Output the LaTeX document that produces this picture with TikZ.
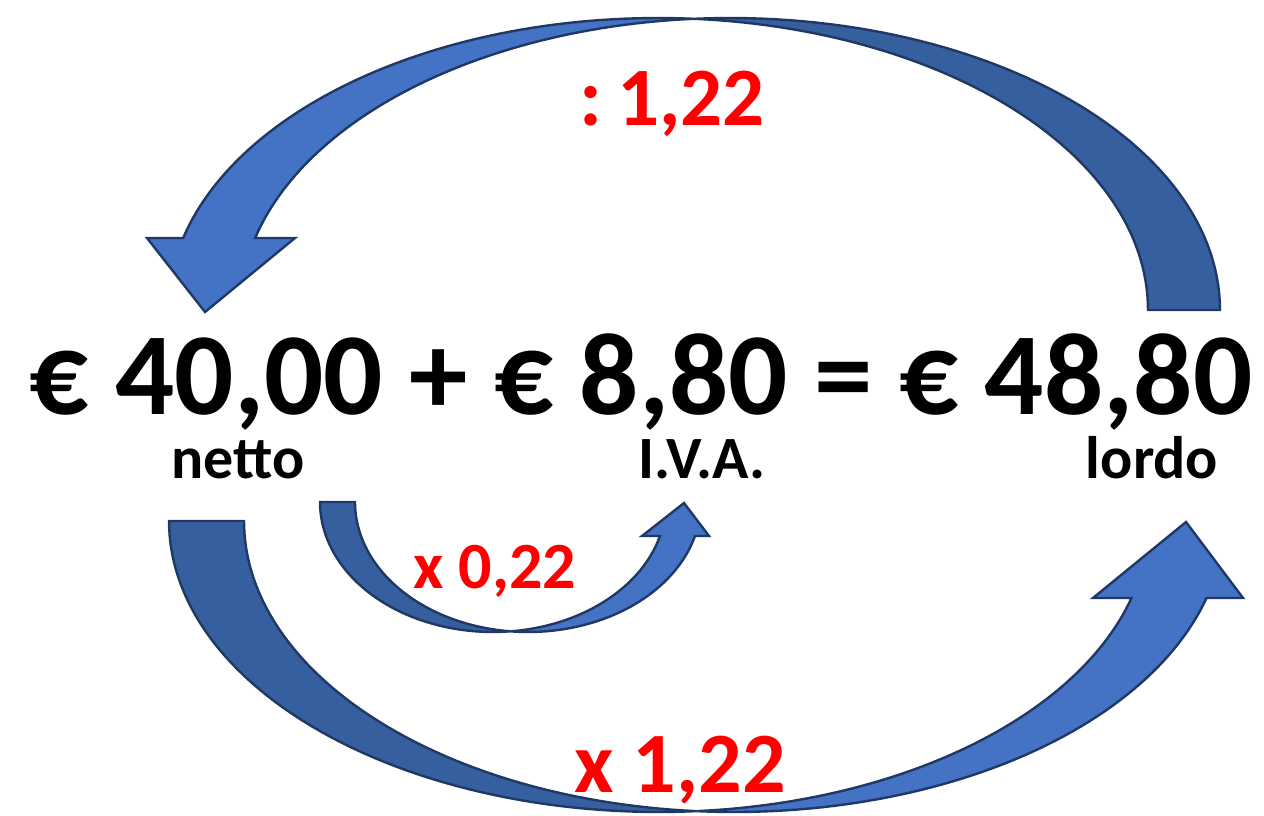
\documentclass[tikz,border=0pt]{standalone}
\usepackage{fontspec}
\setmainfont{Carlito}
\usepackage{tikz}
\definecolor{front}{HTML}{4472C4}
\definecolor{back}{HTML}{365F9F}
\definecolor{rim}{HTML}{1F3864}
\definecolor{red}{HTML}{FF0000}

\begin{document}
\begin{tikzpicture}[x=1pt,y=-1pt,
  frontface/.style={fill=front,draw=rim,line width=2.4pt,line join=miter},
  backface/.style={fill=back,draw=rim,line width=2.4pt,line join=miter},
  amount/.style={font=\fontsize{117}{117}\selectfont\bfseries,anchor=base,inner sep=0pt},
  tag/.style={font=\fontsize{60}{60}\selectfont\bfseries,anchor=base,inner sep=0pt},
  factor/.style={font=\fontsize{#1}{#1}\selectfont\bfseries,text=red,anchor=base,inner sep=0pt}]
\useasboundingbox (0,0) rectangle (1264,816);

% top arrow, lordo back to netto
\draw[backface] plot[domain=-94.2:0,samples=60] ({730+490*cos(\x)},{310+292*sin(\x)})
  -- plot[domain=0:-85.8,samples=60] ({658+490*cos(\x)},{310+292*sin(\x)}) -- cycle;
\draw[frontface] plot[domain=-85.8:-165.73,samples=60] ({658+490*cos(\x)},{310+292*sin(\x)})
  -- (147,238) -- (205,312) -- (295,238)
  -- plot[domain=-165.73:-94.2,samples=60] ({730+490*cos(\x)},{310+292*sin(\x)}) -- cycle;

% small arrow, netto to I.V.A.
\draw[backface] plot[domain=180:84.19,samples=60] ({493+173*cos(\x)},{502+130*sin(\x)})
  -- plot[domain=95.81:180,samples=60] ({528+173*cos(\x)},{502+130*sin(\x)}) -- cycle;
\draw[frontface] plot[domain=95.81:15.16,samples=60] ({528+173*cos(\x)},{502+130*sin(\x)})
  -- (709,536) -- (684,503) -- (642,536)
  -- plot[domain=15.16:84.19,samples=60] ({493+173*cos(\x)},{502+130*sin(\x)}) -- cycle;

% big arrow, netto to lordo
\draw[backface] plot[domain=180:85.6,samples=60] ({659+490*cos(\x)},{521+291*sin(\x)})
  -- plot[domain=94.4:180,samples=60] ({734+490*cos(\x)},{521+291*sin(\x)}) -- cycle;
\draw[frontface] plot[domain=94.4:15.34,samples=60] ({734+490*cos(\x)},{521+291*sin(\x)})
  -- (1243,598) -- (1186,522) -- (1093,598)
  -- plot[domain=15.34:85.6,samples=60] ({659+490*cos(\x)},{521+291*sin(\x)}) -- cycle;

\node[amount] (sum) at (641,414) {€ 40,00 + € 8,80 = € 48,80};
\node[tag] (netto) at (238,478) {netto};
\node[tag] (iva) at (702,478) {I.V.A.};
\node[tag] (lordo) at (1152,478) {lordo};

\node[factor=83] (div) at (672,125) {:\hspace{0.18em}1,22};
\node[factor=66] (mulpart) at (495,588) {x 0,22};
\node[factor=86] (mulall) at (680,792) {x 1,22};
\end{tikzpicture}
\end{document}
